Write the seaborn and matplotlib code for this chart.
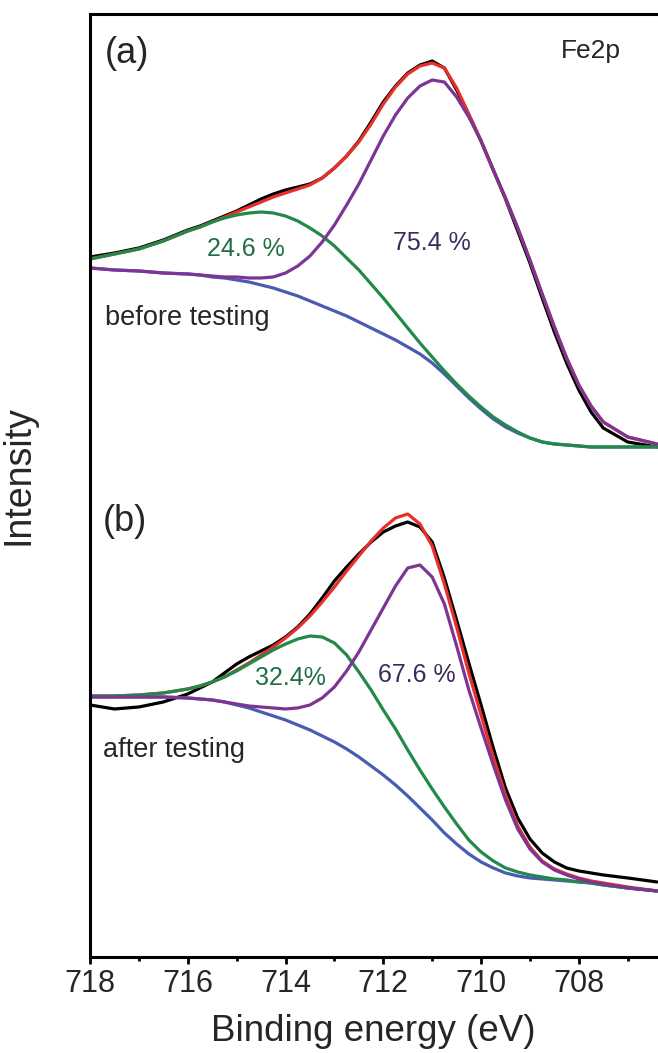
import numpy as np
import pandas as pd
import matplotlib
matplotlib.use("Agg")
import matplotlib.pyplot as plt
import seaborn as sns

# binding energy grid (eV) shared by both spectra
energy = [718, 717.5, 717, 716.5,
          716, 715.75, 715.5, 715.25, 715, 714.75, 714.5, 714.25, 714,
          713.75, 713.5, 713.25, 713, 712.75, 712.5, 712.25, 712,
          711.75, 711.5, 711.25, 711, 710.75, 710.5, 710.25, 710,
          709.75, 709.5, 709.25, 709, 708.75, 708.5, 708.25, 708,
          707.75, 707.5, 707, 706.4]

# (a) before testing
a_raw = [700, 704, 709, 717,
         727, 731, 736, 741, 746, 752, 758, 763, 767,
         770, 773, 779, 789, 801, 816, 835, 855,
         871, 884, 892, 896, 889, 867, 842, 816,
         787, 758, 726, 694, 659, 625, 594, 567,
         545, 529, 515, 510]
a_fit = [698, 703, 708, 716,
         726, 730, 735, 740, 745, 750, 755, 760, 764,
         768, 772, 779, 789, 801, 815, 833, 853,
         870, 883, 891, 894, 889, 869, 843, 816,
         787, 759, 729, 697, 663, 630, 599, 572,
         551, 535, 520, 513]
a_fe2 = [689, 687, 686, 684,
         683, 682, 681, 680, 680, 679, 679, 680, 684,
         691, 701, 715, 732, 752, 773, 797, 821,
         842, 859, 871, 877, 875, 860, 840, 816,
         787, 759, 729, 697, 663, 630, 599, 572,
         551, 535, 520, 513]
a_fe3 = [698, 703, 708, 716,
         726, 730, 735, 739, 742, 744, 745, 744, 741,
         736, 729, 721, 711, 699, 687, 673, 659,
         644, 629, 614, 600, 586, 573, 561, 550,
         540, 532, 525, 519, 515, 513, 512, 511,
         510, 510, 510, 510]
a_bg = [689, 687, 686, 684,
        683, 682, 680, 679, 677, 675, 672, 669, 665,
        661, 656, 651, 646, 641, 635, 629, 623,
        617, 610, 603, 594, 583, 571, 559, 548,
        538, 530, 524, 519, 515, 513, 512, 511,
        510, 510, 510, 510]

# (b) after testing
b_raw = [252, 248, 250, 255,
         263, 269, 275, 284, 293, 300, 306, 312, 320,
         330, 343, 359, 376, 390, 403, 415, 425,
         431, 435, 430, 415, 379, 337, 294, 252,
         209, 169, 139, 118, 104, 95, 89, 86,
         84, 82, 79, 75]
b_fit = [261, 261, 262, 264,
         268, 271, 275, 280, 287, 294, 302, 310, 319,
         329, 341, 355, 370, 386, 401, 416, 429,
         439, 443, 433, 411, 373, 330, 284, 242,
         200, 162, 131, 110, 96, 88, 83, 79,
         76, 74, 70, 66]
b_fe2 = [260, 260, 260, 260,
         259, 258, 257, 255, 253, 251, 250, 249, 248,
         249, 252, 259, 270, 286, 305, 327, 349,
         371, 389, 392, 380, 353, 311, 267, 229,
         192, 157, 128, 108, 95, 87, 82, 78,
         75, 73, 69, 66]
b_fe3 = [261, 261, 262, 264,
         268, 271, 275, 280, 286, 293, 300, 307, 313,
         318, 321, 320, 314, 302, 285, 267, 247,
         228, 207, 187, 168, 150, 133, 117, 105,
         96, 89, 85, 82, 80, 78, 77, 75,
         74, 72, 69, 66]
b_bg = [260, 260, 260, 260,
        259, 258, 257, 255, 252, 249, 245, 241, 237,
        232, 227, 221, 215, 208, 200, 191, 182,
        172, 161, 149, 137, 124, 113, 103, 95,
        89, 84, 81, 79, 78, 77, 76, 75,
        74, 72, 69, 66]

major_ticks = [718, 716, 714, 712, 710, 708]
minor_ticks = [717, 715, 713, 711, 709, 707]

colors = {"raw": "#000000", "fit": "#e8302a", "bg": "#4a5cb0",
          "fe3": "#22894a", "fe2": "#7d3594"}

sns.set_theme(style="ticks")
plt.rcParams["font.family"] = ["Liberation Sans", "DejaVu Sans"]

fig = plt.figure(figsize=(6.58, 10.53), dpi=100)
ax = fig.add_axes([0.1368, 0.0912, 0.8632, 0.8955])

panels = [
    {"raw": a_raw, "fit": a_fit, "bg": a_bg, "fe3": a_fe3, "fe2": a_fe2},
    {"raw": b_raw, "fit": b_fit, "bg": b_bg, "fe3": b_fe3, "fe2": b_fe2},
]
for p in panels:
    df = pd.DataFrame({"energy": energy, **p})
    for key in ["raw", "fit", "bg", "fe3", "fe2"]:
        sns.lineplot(data=df, x="energy", y=key, color=colors[key], lw=2.3,
                     ax=ax, legend=False, solid_joinstyle="round",
                     solid_capstyle="round")

ax.set_xlim(718, 706.38)
ax.set_ylim(0, 943)
ax.set_xticks(major_ticks)
ax.set_xticks(minor_ticks, minor=True)
ax.set_yticks([])
ax.tick_params(axis="x", which="major", direction="out", length=5, width=2,
               labelsize=22, pad=4, color="black")
ax.tick_params(axis="x", which="minor", direction="out", length=3, width=2,
               color="black")
for side in ["left", "top", "bottom"]:
    ax.spines[side].set_linewidth(2.2)
    ax.spines[side].set_color("black")
ax.spines["right"].set_visible(False)

ax.set_xlabel("Binding energy (eV)", fontsize=26.5)
ax.set_ylabel("Intensity", fontsize=27)
ax.xaxis.set_label_coords(0.498, -0.06)
ax.yaxis.set_label_coords(-0.095, 0.511)

# panel labels and percentages
ax.text(717.69, 904, "(a)", fontsize=26, ha="left", va="center")
ax.text(707.75, 906, "Fe2p", fontsize=19, ha="center", va="center")
ax.text(714.81, 708, "24.6 %", fontsize=18, color="#1f6e45", ha="center", va="center")
ax.text(711.0, 714, "75.4 %", fontsize=18, color="#3d2a5c", ha="center", va="center")
ax.text(717.69, 639, "before testing", fontsize=19.5, ha="left", va="center")
ax.text(717.73, 435, "(b)", fontsize=26, ha="left", va="center")
ax.text(713.89, 279, "32.4%", fontsize=18, color="#1f6e45", ha="center", va="center")
ax.text(711.31, 282, "67.6 %", fontsize=18, color="#3d2a5c", ha="center", va="center")
ax.text(717.73, 207, "after testing", fontsize=19.5, ha="left", va="center")

fig.savefig("out.png", dpi=100)
